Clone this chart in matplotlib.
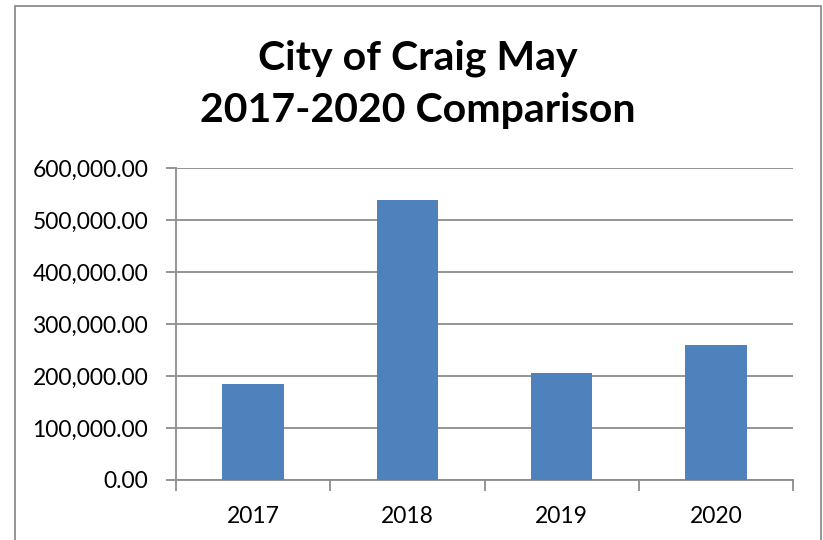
import matplotlib.pyplot as plt
from matplotlib.patches import Rectangle
from matplotlib.ticker import FuncFormatter, FixedLocator

years = ["2017", "2018", "2019", "2020"]
amounts = [184000, 538000, 205000, 260500]
y_ticks = [0, 100000, 200000, 300000, 400000, 500000, 600000]

bar_color = "#4F81BD"
grid_color = "#8c8c8c"

plt.rcParams["font.family"] = ["Lato", "DejaVu Sans"]

fig = plt.figure(figsize=(8.23, 5.4), dpi=100)
fig.patch.set_facecolor("white")

# chart outline (bottom edge falls outside the picture)
fig.patches.append(Rectangle((15 / 823, -0.05), (821 - 15) / 823, 1.05 - 6 / 540,
                             transform=fig.transFigure, fill=False,
                             edgecolor="#8c8c8c", linewidth=1.3))

ax = fig.add_axes([176 / 823, 1 - 480 / 540, (793 - 176) / 823, (480 - 168) / 540])

x = range(len(years))
ax.bar(x, amounts, width=0.4, color=bar_color, zorder=3)

ax.set_xlim(-0.5, len(years) - 0.5)
ax.set_ylim(0, 600000)
ax.set_yticks(y_ticks)
ax.yaxis.set_major_formatter(FuncFormatter(lambda v, p: f"{v:,.2f}"))
ax.set_xticks(list(x))
ax.set_xticklabels(years)
ax.xaxis.set_minor_locator(FixedLocator([i - 0.5 for i in range(len(years) + 1)]))

ax.grid(axis="y", color=grid_color, linewidth=1.3, zorder=0)
for s in ["top", "right"]:
    ax.spines[s].set_visible(False)
for s in ["left", "bottom"]:
    ax.spines[s].set_color(grid_color)
    ax.spines[s].set_linewidth(1.3)

ax.tick_params(axis="y", length=7, width=1.3, color=grid_color, labelsize=16.5, pad=13)
ax.tick_params(axis="x", which="major", length=0, labelsize=16.5, pad=19)
ax.tick_params(axis="x", which="minor", length=8, width=1.3, color=grid_color)

fig.text(0.508, 1 - 84 / 540, "City of Craig May\n2017-2020 Comparison",
         ha="center", va="center", fontsize=29.5, fontweight="bold",
         linespacing=1.5)

fig.savefig("out.png", dpi=100)
